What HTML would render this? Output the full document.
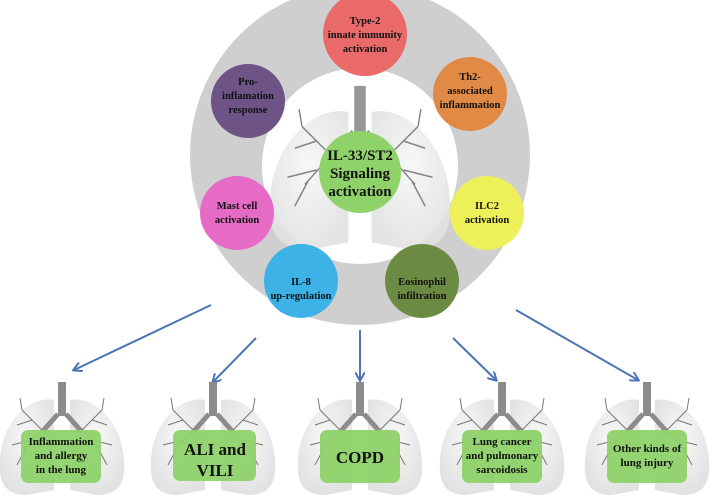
<!DOCTYPE html>
<html><head><style>
body{margin:0;background:#fff;}
svg text{font-family:"Liberation Serif",serif;font-weight:bold;fill:#111;text-anchor:middle;}
</style></head><body>
<svg width="715" height="498" viewBox="0 0 715 498" xmlns="http://www.w3.org/2000/svg">
<defs>
<radialGradient id="lg" cx="50%" cy="40%" r="60%"><stop offset="0" stop-color="#f7f7f7"/><stop offset="1" stop-color="#e2e2e2"/></radialGradient>
<g id="lung">
 <path d="M-8,-40 C-30,-45 -60,-20 -62,20 C-64,45 -55,55 -35,55 L-8,50 Z" fill="url(#lg)"/>
 <path d="M8,-40 C30,-45 60,-20 62,20 C64,45 55,55 35,55 L8,50 Z" fill="url(#lg)"/>
 <rect x="-4" y="-58" width="8" height="34" fill="#8c8c8c"/>
 <path d="M-4,-26 L-20,-8 M4,-26 L20,-8" stroke="#8c8c8c" stroke-width="5" fill="none"/>
 <path d="M-20,-10 L-40,-30 M-30,-20 L-45,-15 M-22,-8 L-38,10 M-30,0 L-50,5 M-36,8 L-45,25 M-40,-30 L-42,-42 M20,-10 L40,-30 M30,-20 L45,-15 M22,-8 L38,10 M30,0 L50,5 M36,8 L45,25 M40,-30 L42,-42" stroke="#777" stroke-width="1" fill="none"/>
</g>
<marker id="ah" markerWidth="10" markerHeight="10" refX="8" refY="5" orient="auto" markerUnits="userSpaceOnUse"><path d="M0,0 L9,5 L0,10" fill="none" stroke="#4a74b4" stroke-width="2"/></marker>
</defs>
<circle cx="360" cy="155" r="170" fill="#cfcfcf"/>
<circle cx="360" cy="166" r="98" fill="#fff"/>
<use href="#lung" transform="translate(360,170) scale(1.45)" opacity="0.9"/>
<circle cx="360" cy="172" r="41" fill="#8fd26a"/>
<text x="360" y="160" font-size="15">IL-33/ST2</text>
<text x="360" y="178" font-size="15">Signaling</text>
<text x="360" y="196" font-size="15">activation</text>

<circle cx="365" cy="34" r="42" fill="#ea6a6a"/>
<text x="365" y="24" font-size="10.5">Type-2</text><text x="365" y="38" font-size="10.5">innate  immunity</text><text x="365" y="52" font-size="10.5">activation</text>
<circle cx="470" cy="94" r="37" fill="#e08a45"/>
<text x="470" y="80" font-size="10.5">Th2-</text><text x="470" y="94" font-size="10.5">associated</text><text x="470" y="108" font-size="10.5">inflammation</text>
<circle cx="487" cy="213" r="37" fill="#eef05a"/>
<text x="487" y="209" font-size="10.5">ILC2</text><text x="487" y="223" font-size="10.5">activation</text>
<circle cx="422" cy="281" r="37" fill="#6b8a42"/>
<text x="422" y="285" font-size="10.5">Eosinophil</text><text x="422" y="299" font-size="10.5">infiltration</text>
<circle cx="301" cy="281" r="37" fill="#3db2e6"/>
<text x="301" y="285" font-size="10.5">IL-8</text><text x="301" y="299" font-size="10.5">up-regulation</text>
<circle cx="237" cy="213" r="37" fill="#e56bc6"/>
<text x="237" y="209" font-size="10.5">Mast cell</text><text x="237" y="223" font-size="10.5">activation</text>
<circle cx="248" cy="101" r="37" fill="#6e5387"/>
<text x="248" y="85" font-size="10.5">Pro-</text><text x="248" y="99" font-size="10.5">inflamation</text><text x="248" y="113" font-size="10.5">response</text>

<g stroke="#4a74b4" stroke-width="2" fill="none" marker-end="url(#ah)">
<line x1="211" y1="305" x2="74" y2="370"/>
<line x1="256" y1="338" x2="213" y2="382"/>
<line x1="360" y1="330" x2="360" y2="380"/>
<line x1="453" y1="338" x2="496" y2="380"/>
<line x1="516" y1="310" x2="638" y2="380"/>
</g>

<g>
<use href="#lung" transform="translate(62,440)"/>
<use href="#lung" transform="translate(213,440)"/>
<use href="#lung" transform="translate(360,440)"/>
<use href="#lung" transform="translate(502,440)"/>
<use href="#lung" transform="translate(647,440)"/>
</g>
<g fill="#8fd26a" opacity="0.95">
<rect x="21" y="430" width="80" height="53" rx="7"/>
<rect x="173" y="430" width="83" height="51" rx="7"/>
<rect x="320" y="430" width="80" height="53" rx="7"/>
<rect x="462" y="430" width="80" height="53" rx="7"/>
<rect x="607" y="430" width="80" height="53" rx="7"/>
</g>
<text x="61" y="445" font-size="11">Inflammation</text><text x="61" y="459" font-size="11">and allergy</text><text x="61" y="473" font-size="11">in the lung</text>
<text x="215" y="455" font-size="17">ALI  and</text><text x="215" y="476" font-size="17">VILI</text>
<text x="360" y="463" font-size="17">COPD</text>
<text x="502" y="445" font-size="11">Lung cancer</text><text x="502" y="459" font-size="11">and pulmonary</text><text x="502" y="473" font-size="11">sarcoidosis</text>
<text x="647" y="452" font-size="11">Other kinds of</text><text x="647" y="466" font-size="11">lung injury</text>
</svg>
</body></html>
